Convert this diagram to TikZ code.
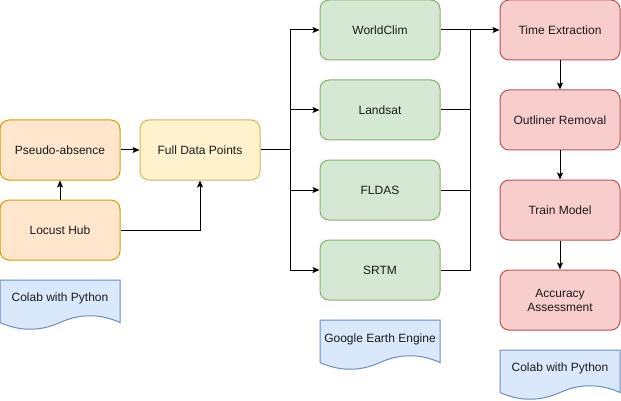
\documentclass[tikz,border=0pt]{standalone}
\usepackage{fontspec}
\setmainfont{Liberation Sans}
\usetikzlibrary{arrows.meta}
\definecolor{orfill}{HTML}{FFE6CC}\definecolor{ordraw}{HTML}{D79B00}
\definecolor{yefill}{HTML}{FFF2CC}\definecolor{yedraw}{HTML}{D6B656}
\definecolor{grfill}{HTML}{D5E8D4}\definecolor{grdraw}{HTML}{82B366}
\definecolor{rdfill}{HTML}{F8CECC}\definecolor{rddraw}{HTML}{B85450}
\definecolor{blfill}{HTML}{DAE8FC}\definecolor{bldraw}{HTML}{6C8EBF}
\definecolor{txt}{HTML}{1A1A1A}
\tikzset{
  box/.style={rectangle, rounded corners=9pt, minimum width=120pt, minimum height=60pt,
    inner sep=0pt, line width=1pt, align=center, font=\fontsize{12}{14}\selectfont, text=txt},
  orbox/.style={box, fill=orfill, draw=ordraw},
  yebox/.style={box, fill=yefill, draw=yedraw},
  grbox/.style={box, fill=grfill, draw=grdraw},
  rdbox/.style={box, fill=rdfill, draw=rddraw},
  doctext/.style={inner sep=0pt, font=\fontsize{12}{14}\selectfont, text=txt},
  docshape/.style={fill=blfill, draw=bldraw, line width=1pt},
  conn/.style={line width=1pt, -{Stealth[length=7pt,width=6pt,inset=1.5pt]}},
  line/.style={line width=1pt},
}
\begin{document}
\begin{tikzpicture}[x=1pt,y=-1pt]
\useasboundingbox (0,0) rectangle (621,401);
% nodes
\node[orbox] (pa) at (60,150) {Pseudo-absence};
\node[orbox] (lh) at (60,230) {Locust Hub};
\node[yebox] (fd) at (200,150) {Full Data Points};
\node[grbox] (wc) at (380,30) {WorldClim};
\node[grbox] (ls) at (380,110) {Landsat};
\node[grbox] (fl) at (380,190) {FLDAS};
\node[grbox] (sr) at (380,270) {SRTM};
\node[rdbox] (te) at (560,30) {Time Extraction};
\node[rdbox] (or) at (560,120) {Outliner Removal};
\node[rdbox] (tm) at (560,210) {Train Model};
\node[rdbox] (aa) at (560,300) {Accuracy\\Assessment};
% document shapes
\foreach \dx/\dy in {0/280, 320/320, 500/350}{
  \draw[docshape, shift={(\dx,\dy)}] (0,0) -- (120,0) -- (120,42.5)
    .. controls (100,33.5) and (80,33.5) .. (60,42.5)
    .. controls (40,51.5) and (20,51.5) .. (0,42.5) -- cycle;
}
\node[doctext] (d1) at (60,298) {Colab with Python};
\node[doctext] (d2) at (380,339) {Google Earth Engine};
\node[doctext] (d3) at (560,368) {Colab with Python};
% connectors
\coordinate (bl) at (290,150);
\coordinate (br) at (470,30);
\draw[conn] (lh.north) -- (pa.south);
\draw[conn] (pa.east) -- (fd.west);
\draw[conn] (lh.east) -| (fd.south);
\draw[line] (fd.east) -- (bl);
\foreach \n in {wc,ls,fl,sr}{
  \draw[conn] (bl) |- (\n.west);
  \draw[line] (\n.east) -| (br);
}
\draw[conn] (br) -- (te.west);
\draw[conn] (te.south) -- (or.north);
\draw[conn] (or.south) -- (tm.north);
\draw[conn] (tm.south) -- (aa.north);
\end{tikzpicture}
\end{document}
